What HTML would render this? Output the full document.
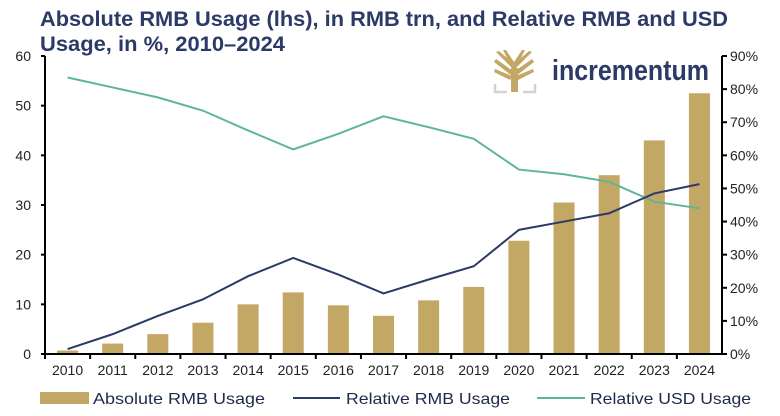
<!DOCTYPE html>
<html><head><meta charset="utf-8"><style>
html,body{margin:0;padding:0;background:#fff;}
svg{display:block;font-family:"Liberation Sans",Arial,sans-serif;}
</style></head><body>
<svg id="chart" width="780" height="416" viewBox="0 0 780 416">
<text x="40" y="26" font-size="21" font-weight="bold" fill="#2b3a67" textLength="688" lengthAdjust="spacingAndGlyphs">Absolute RMB Usage (lhs), in RMB trn, and Relative RMB and USD</text>
<text x="40" y="51" font-size="21" font-weight="bold" fill="#2b3a67" textLength="245" lengthAdjust="spacingAndGlyphs">Usage, in %, 2010–2024</text>
<g>
 <g fill="#c2a765">
  <rect x="511" y="68" width="7" height="24"/>
  <path d="M514 70 L496 52 L499 51 L514 64 L529 51 L532 52 Z"/>
  <path d="M512 76 L494 62 L496 59 L513 71 Z"/>
  <path d="M516 76 L534 62 L532 59 L515 71 Z"/>
  <path d="M511 66 L503 50 L506 50 L514 62 L522 50 L525 50 L517 66 Z"/>
  <path d="M510 80 L494 72 L495 69 L512 76 Z"/>
  <path d="M518 80 L534 72 L533 69 L516 76 Z"/>
 </g>
 <path d="M495 84 V92 H507 M535 84 V92 H523" fill="none" stroke="#d3d3d3" stroke-width="2.5"/>
 <text x="552" y="80" font-size="29" font-weight="bold" fill="#2b3a67" textLength="157" lengthAdjust="spacingAndGlyphs">incrementum</text>
</g>
<g id="plot"></g>
<g>
 <g>
  <rect x="40" y="392" width="49" height="12" fill="#c2a765"/>
  <text x="93" y="404" font-size="16" fill="#1f2a4a" textLength="172" lengthAdjust="spacingAndGlyphs">Absolute RMB Usage</text>
 </g>
 <g>
  <line x1="293" y1="398" x2="340" y2="398" stroke="#2b3a67" stroke-width="2"/>
  <text x="346" y="404" font-size="16" fill="#1f2a4a" textLength="164" lengthAdjust="spacingAndGlyphs">Relative RMB Usage</text>
 </g>
 <g>
  <line x1="537" y1="398" x2="585" y2="398" stroke="#5cb894" stroke-width="2"/>
  <text x="590" y="404" font-size="16" fill="#1f2a4a" textLength="161" lengthAdjust="spacingAndGlyphs">Relative USD Usage</text>
 </g>
</g>
</svg>
<script>
const years = ["2010","2011","2012","2013","2014","2015","2016","2017","2018","2019","2020","2021","2022","2023","2024"];
const absoluteRmb = [0.7,2.1,4.0,6.3,10.0,12.4,9.8,7.7,10.8,13.5,22.8,30.5,36.0,43.0,52.5];
const relativeRmb = [1.5,6,11.5,16.5,23.5,29,24,18.3,22.5,26.5,37.5,40,42.5,48.5,51.3];
const relativeUsd = [83.5,80.5,77.5,73.5,67.5,61.8,66.5,71.8,68.5,65,55.7,54.3,52,46,44];
const leftTicks = [0,10,20,30,40,50,60];
const rightTicks = [0,10,20,30,40,50,60,70,80,90];

const NS = "http://www.w3.org/2000/svg";
const plot = document.getElementById("plot");
const X0 = 45, X1 = 722, Y0 = 354, Y1 = 56;
const band = (X1 - X0) / years.length;
const xC = i => X0 + band * (i + 0.5);
const yL = v => Y0 - (v / 60) * (Y0 - Y1);
const yR = v => Y0 - (v / 90) * (Y0 - Y1);
function mk(tag, attrs, parent) {
  const e = document.createElementNS(NS, tag);
  for (const k in attrs) e.setAttribute(k, attrs[k]);
  (parent || plot).appendChild(e);
  return e;
}
// bars
absoluteRmb.forEach((v, i) => {
  const r = mk("rect", {x: xC(i) - 10.5, y: yL(v), width: 21, height: Y0 - yL(v), fill: "#c2a765"});
  
  
});
// lines
function line(arr, color, name) {
  const p = mk("polyline", {points: arr.map((v, i) => xC(i) + "," + yR(v)).join(" "), fill: "none", stroke: color, "stroke-width": 2});
  
  
}
line(relativeUsd, "#5cb894", "relative-usd-line");
line(relativeRmb, "#2b3a67", "relative-rmb-line");
// axes
const ax = mk("path", {d: `M${X0} ${Y1} V${Y0} H${X1} V${Y1}`, fill: "none", stroke: "#000", "stroke-width": 2});


leftTicks.forEach(t => {
  mk("line", {x1: X0 - 4, x2: X0, y1: yL(t), y2: yL(t), stroke: "#000", "stroke-width": 2});
  const tx = mk("text", {x: X0 - 14, y: yL(t) + 5, "font-size": 14, "text-anchor": "end", fill: "#222"});
  tx.textContent = t;
  
  
});
rightTicks.forEach(t => {
  mk("line", {x1: X1, x2: X1 + 5, y1: yR(t), y2: yR(t), stroke: "#000", "stroke-width": 2});
  const tx = mk("text", {x: X1 + 8, y: yR(t) + 5, "font-size": 14, fill: "#222"});
  tx.textContent = t + "%";
  
  
});
years.forEach((y, i) => {
  mk("line", {x1: X0 + band * i, x2: X0 + band * i, y1: Y0, y2: Y0 + 5, stroke: "#000", "stroke-width": 2});
  const tx = mk("text", {x: xC(i), y: 375, "font-size": 14, "text-anchor": "middle", fill: "#222"});
  tx.textContent = y;
  
  
});
</script>
</body></html>
